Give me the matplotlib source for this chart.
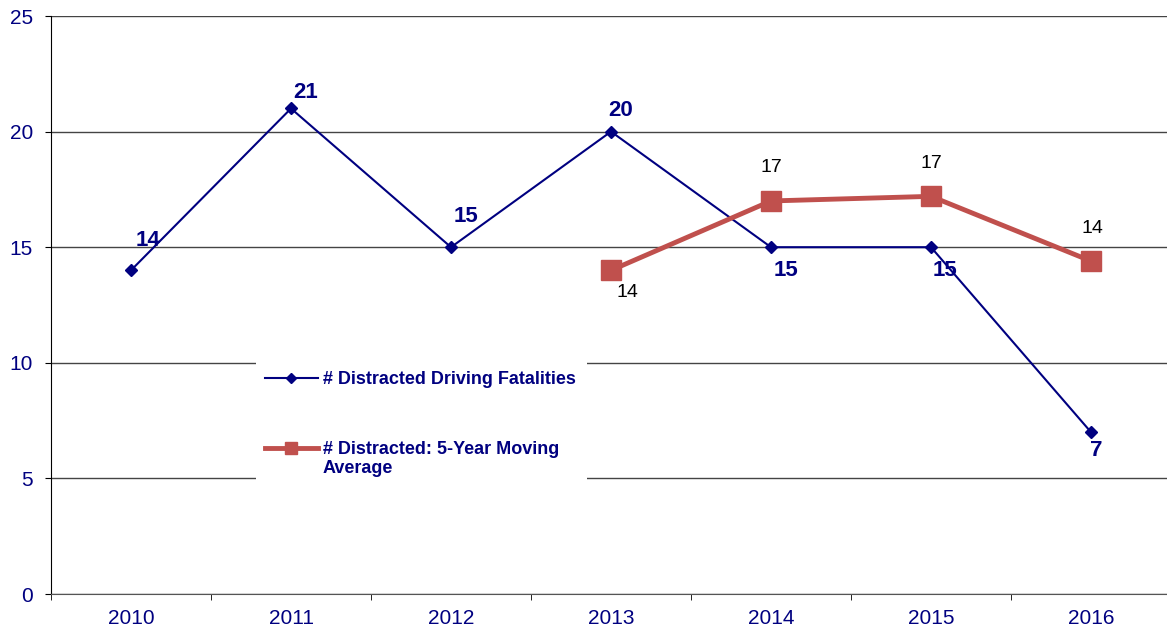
import matplotlib
matplotlib.use("Agg")
import matplotlib.pyplot as plt
from matplotlib.patches import Rectangle
import numpy as np

plt.rcParams['font.family'] = ['Liberation Sans', 'DejaVu Sans']

# data
years = ['2010', '2011', '2012', '2013', '2014', '2015', '2016']
fatalities = [14, 21, 15, 20, 15, 15, 7]
avg_years = ['2013', '2014', '2015', '2016']
moving_avg = [14.0, 17.0, 17.2, 14.4]
avg_labels = ['14', '17', '17', '14']

navy = '#000080'
red = '#C0504D'

W, H = 1167, 632
fig = plt.figure(figsize=(W / 100, H / 100), dpi=100)
ax = fig.add_axes([51 / W, 1 - 594 / H, 1120 / W, 578 / H])


def ax_xy(px, py):
    # pixel position in the picture -> axes fraction
    return (px - 51) / 1120, (594 - py) / 578


x = np.arange(len(years))
x_avg = [years.index(y) for y in avg_years]

ax.plot(x, fatalities, color=navy, lw=1.5, marker='D', ms=6.5, zorder=3,
        label='# Distracted Driving Fatalities')
ax.plot(x_avg, moving_avg, color=red, lw=3.5, marker='s', ms=14, zorder=4,
        label='# Distracted: 5-Year Moving')

# value labels (offsets in pixels)
blue_off = [(17, 30), (15, 16), (15, 31), (10, 21), (15, -23), (14, -23), (5, -18)]
for xi, v, (dx, dy) in zip(x, fatalities, blue_off):
    ax.annotate(str(v), (xi, v), xytext=(dx, dy), textcoords='offset pixels',
                ha='center', va='center', fontsize=16, fontweight='bold',
                color=navy, zorder=5)

red_off = [(16, -22), (0, 33), (0, 33), (1, 33)]
for xi, v, lab, (dx, dy) in zip(x_avg, moving_avg, avg_labels, red_off):
    ax.annotate(lab, (xi, v), xytext=(dx, dy), textcoords='offset pixels',
                ha='center', va='center', fontsize=14, color='black', zorder=5)

ax.set_xlim(-0.5, 6.5)
ax.set_ylim(0, 25)
ax.set_yticks(range(0, 26, 5))
ax.set_xticks(x)
ax.set_xticklabels(years)
ax.set_xticks(np.arange(-0.5, 7, 1), minor=True)
ax.tick_params(axis='x', which='major', length=0, pad=11, labelsize=15, labelcolor=navy)
ax.tick_params(axis='x', which='minor', length=4.5, color='black', direction='out')
ax.tick_params(axis='y', length=4.5, color='black', pad=8.5, labelsize=15, labelcolor=navy)
ax.yaxis.grid(True, color='#444444', lw=1)
ax.set_axisbelow(True)
for s in ['top', 'right']:
    ax.spines[s].set_visible(False)
ax.spines['left'].set_color('black')
ax.spines['bottom'].set_color('#555555')

# white legend area covering the gridlines
x0, y1 = ax_xy(256, 488)
x1, y0 = ax_xy(587, 340)
ax.add_patch(Rectangle((x0, y1), x1 - x0, y0 - y1, transform=ax.transAxes,
                       facecolor='white', edgecolor='none', zorder=2))

leg = ax.legend(loc='upper left', bbox_to_anchor=ax_xy(265, 371),
                frameon=False, borderaxespad=0, borderpad=0,
                handlelength=2.93, handletextpad=0.28, labelspacing=2.95,
                prop={'size': 13, 'weight': 'bold'})
leg.set_zorder(6)
leg.legend_handles[0].set_markersize(5.5)
leg.legend_handles[1].set_markersize(8)
for t in leg.get_texts():
    t.set_color(navy)

# second line of the moving-average label, under its first line
fig.canvas.draw()
bb = leg.get_texts()[1].get_window_extent().transformed(ax.transAxes.inverted())
ax.text(bb.x0, bb.y0 - 2 / 578, 'Average', transform=ax.transAxes,
        ha='left', va='top', fontsize=13, fontweight='bold', color=navy, zorder=6)

fig.savefig('out.png', dpi=100)
